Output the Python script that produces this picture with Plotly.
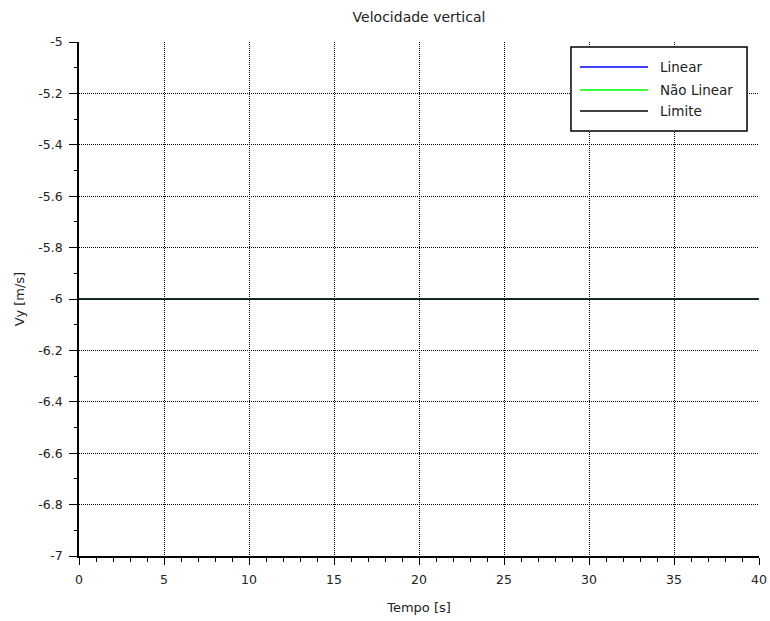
import plotly.graph_objects as go

# Time samples [s] and vertical velocity series [m/s]
tempo = [0, 40]
vy_linear = [-6, -6]
vy_nao_linear = [-6, -6]
vy_limite = [-6, -6]

serie_nomes = ["Linear", "Não Linear", "Limite"]
serie_cores = ["#0000ff", "#00ff00", "#000000"]
serie_larguras = [0.8, 0.8, 1.6]
serie_valores = [vy_linear, vy_nao_linear, vy_limite]

x_ticks = [0, 5, 10, 15, 20, 25, 30, 35, 40]
y_ticks = [-7, -6.8, -6.6, -6.4, -6.2, -6, -5.8, -5.6, -5.4, -5.2, -5]

FONT = "DejaVu Sans, Verdana, sans-serif"
TXT = "#222222"

fig = go.Figure()
for nome, cor, lw, vals in zip(serie_nomes, serie_cores, serie_larguras, serie_valores):
    fig.add_trace(go.Scatter(x=tempo, y=vals, mode="lines", name=nome,
                             line=dict(color=cor, width=lw), showlegend=False))

axis_common = dict(
    showline=True, linecolor="black", linewidth=1.5, mirror=False,
    ticks="outside", tickcolor="black", tickwidth=1.2,
    showgrid=True, gridcolor="black", gridwidth=1, griddash="1px,1px",
    zeroline=False, automargin=False,
    tickfont=dict(family=FONT, size=12.5, color=TXT),
)

fig.update_xaxes(range=[0, 40], tickvals=x_ticks, ticklen=7, ticklabelstandoff=4,
                 minor=dict(dtick=1, ticklen=4, tickcolor="black", ticks="outside", showgrid=False),
                 title=dict(text="Tempo [s]", font=dict(family=FONT, size=13, color=TXT), standoff=17),
                 **axis_common)
fig.update_yaxes(range=[-7, -5], tickvals=y_ticks,
                 ticktext=[f"{v:g}" for v in y_ticks], ticklen=8, ticklabelstandoff=4,
                 minor=dict(dtick=0.1, ticklen=3, tickcolor="black", ticks="outside", showgrid=False),
                 title=dict(text="Vy [m/s]", font=dict(family=FONT, size=13, color=TXT), standoff=11),
                 **axis_common)

# Legend box drawn in paper coordinates
box_x0, box_x1, box_y0, box_y1 = 0.7235, 0.9824, 0.8268, 0.9903
shapes = [dict(type="rect", xref="paper", yref="paper", x0=box_x0, x1=box_x1,
               y0=box_y0, y1=box_y1, line=dict(color="black", width=1.5),
               fillcolor="white", layer="above")]
annotations = []
rows = [0.9514, 0.9066, 0.8658]
for nome, cor, yy in zip(serie_nomes, serie_cores, rows):
    shapes.append(dict(type="line", xref="paper", yref="paper", x0=0.7368, x1=0.8368,
                       y0=yy, y1=yy, line=dict(color=cor, width=1.3), layer="above"))
    annotations.append(dict(xref="paper", yref="paper", x=0.8515, y=yy, text=nome,
                            showarrow=False, xanchor="left", yanchor="middle",
                            font=dict(family=FONT, size=13.5, color=TXT)))

fig.update_layout(
    width=770, height=621,
    margin=dict(l=79, r=11, t=42, b=65),
    paper_bgcolor="white", plot_bgcolor="white",
    title=dict(text="Velocidade vertical", x=(79 + 759) / 2 / 770, xanchor="center",
               y=1 - 17 / 621, yanchor="middle",
               font=dict(family=FONT, size=14, color=TXT)),
    shapes=shapes, annotations=annotations, showlegend=False,
)

fig.write_html("out.html")
